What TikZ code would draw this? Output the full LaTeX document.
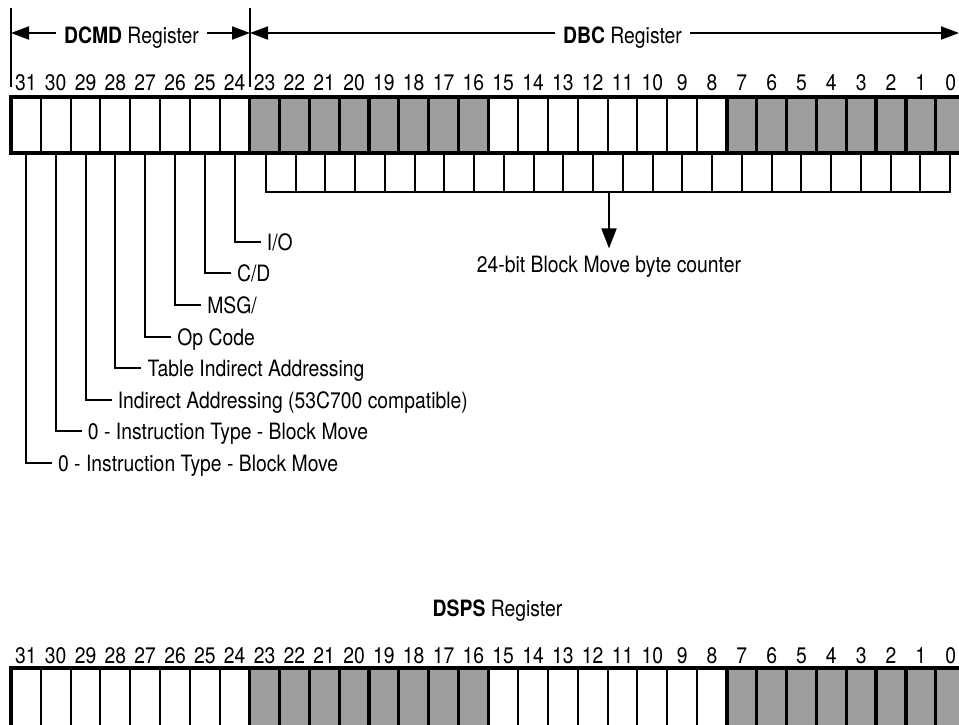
\documentclass[tikz,border=0pt]{standalone}
\usepackage{fontspec}
\setmainfont[FakeStretch=0.86]{TeX Gyre Heros}
\usetikzlibrary{arrows.meta}
\begin{document}
\begin{tikzpicture}[x=1pt,y=-1pt,
  txt/.style={inner sep=0pt, font=\fontsize{22.5}{26}\selectfont},
  bitlbl/.style={txt, anchor=base},
  lbl/.style={txt, anchor=base west},
  cellnode/.style={inner sep=0pt, minimum width=29.83pt, minimum height=56pt},
  regborder/.style={line width=3.5pt},
  heavysep/.style={line width=3.2pt},
  lightsep/.style={line width=2pt},
  leader/.style={line width=2pt},
  tickline/.style={line width=1.8pt},
  arr/.style={line width=2pt, -{Triangle[length=18pt,width=13pt]}},
  dotfill/.style={fill=black!38},
]
\useasboundingbox (0,0) rectangle (959,725);
\clip (0,0) rectangle (959,725);

% ---------- top labels with dimension arrows ----------
\coordinate (tl) at (11,8);
\coordinate (tm) at (250,8);
\coordinate (al) at (11,33);
\coordinate (am) at (250,33);
\coordinate (ar) at (959,33);
\draw[tickline] (tl) -- (11,87);
\draw[tickline] (tm) -- (250,87);
\node[txt, anchor=base] (dcmd) at (131.5,43.5) {\textbf{DCMD} Register};
\node[txt, anchor=base] (dbc) at (622.5,43.5) {\textbf{DBC} Register};
\draw[arr, shorten <=8pt] (dcmd.west |- al) -- (al);
\draw[arr, shorten <=8pt] (dcmd.east |- am) -- (am);
\draw[arr, shorten <=8pt] (dbc.west |- am) -- (am);
\draw[arr, shorten <=8pt] (dbc.east |- ar) -- (ar);

% ---------- DCMD / DBC register ----------
\fill[dotfill] ({11+8*29.83},97) rectangle ({11+16*29.83},153);
\fill[dotfill] ({11+24*29.83},97) rectangle ({11+32*29.83},153);
\foreach \i in {0,...,31} {
  \pgfmathsetmacro\cx{11+(\i+0.5)*29.83}
  \pgfmathtruncatemacro\b{31-\i}
  \node[cellnode] (t\b) at (\cx,125) {};
  \node[bitlbl] (n\b) at (\cx,91) {\b};
}
% sub-row: 24-bit byte counter
\node[draw, lightsep, inner sep=0pt, minimum width=684pt, minimum height=39pt] (sub) at (608,172.5) {};
\foreach \k in {1,...,22} {
  \draw[lightsep] ({266+\k*29.74},153) -- ({266+\k*29.74},192);
}
\foreach \i in {1,2,3,4,5,6,7,17,18,19,20,21,22,23} {
  \draw[lightsep] ({11+\i*29.83},97) -- ({11+\i*29.83},153);
}
\foreach \i in {8,...,16,24,25,...,31} {
  \draw[heavysep] ({11+\i*29.83},97) -- ({11+\i*29.83},153);
}
\draw[regborder] (11,97) rectangle (966,153);

% counter arrow and label
\node[txt, anchor=base] (cnt) at (609,272) {24-bit Block Move byte counter};
\draw[line width=2pt, -{Triangle[length=20pt,width=15pt]}, shorten >=7pt] (sub.south -| cnt.north) -- (cnt.north);

% ---------- DCMD bit field leaders ----------
\foreach \b/\yy/\t in {31/463/{0 - Instruction Type - Block Move},
                        30/431.4/{0 - Instruction Type - Block Move},
                        29/399.8/{Indirect Addressing (53C700 compatible)},
                        28/368.1/{Table Indirect Addressing},
                        27/336.5/{Op Code},
                        26/304.9/{MSG/},
                        25/273.2/{C/D},
                        24/241.6/{I/O}} {
  \coordinate (e\b) at ([xshift=26pt]t\b.south |- 0,\yy);
  \node[lbl] (l\b) at ([xshift=6pt,yshift=-8.5pt]e\b) {\t};
  \draw[leader] (t\b.south) |- (e\b);
}

% ---------- DSPS register ----------
\node[txt, anchor=base] (dsps) at (497.5,616) {\textbf{DSPS} Register};
\fill[dotfill] ({11+8*29.83},668) rectangle ({11+16*29.83},760);
\fill[dotfill] ({11+24*29.83},668) rectangle ({11+32*29.83},760);
\foreach \i in {0,...,31} {
  \pgfmathsetmacro\cx{11+(\i+0.5)*29.83}
  \pgfmathtruncatemacro\b{31-\i}
  \node[bitlbl] (m\b) at (\cx,663) {\b};
}
\foreach \i in {1,2,3,4,5,6,7,17,18,19,20,21,22,23} {
  \draw[lightsep] ({11+\i*29.83},668) -- ({11+\i*29.83},760);
}
\foreach \i in {8,...,16,24,25,...,31} {
  \draw[heavysep] ({11+\i*29.83},668) -- ({11+\i*29.83},760);
}
\draw[regborder] (11,668) rectangle (966,760);
\end{tikzpicture}
\end{document}
